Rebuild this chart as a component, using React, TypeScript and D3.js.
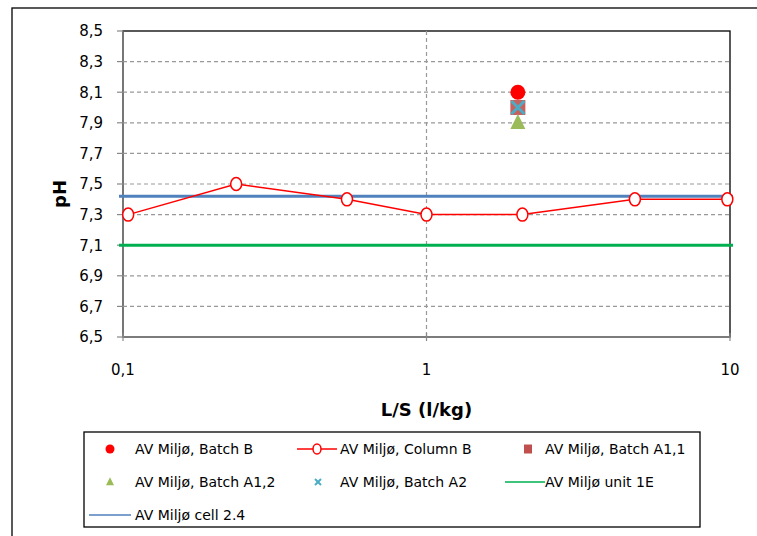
import React from "react";
import * as d3 from "d3";

const yTicks = [6.5, 6.7, 6.9, 7.1, 7.3, 7.5, 7.7, 7.9, 8.1, 8.3, 8.5];
const xTicks = [0.1, 1, 10];
const columnBx = [0.104, 0.236, 0.547, 1.0, 2.07, 4.86, 9.8];
const columnBy = [7.3, 7.5, 7.4, 7.3, 7.3, 7.4, 7.4];
const batchX = 2.0;
const batchB = 8.1;
const batchA11 = 8.0;
const batchA12 = 7.9;
const batchA2 = 8.0;
const unit1E = 7.1;
const cell24 = 7.42;
const legendLabels = [
  "AV Miljø, Batch B",
  "AV Miljø, Column B",
  "AV Miljø, Batch A1,1",
  "AV Miljø, Batch A1,2",
  "AV Miljø, Batch A2",
  "AV Miljø unit 1E",
  "AV Miljø cell 2.4",
];

const C = {
  red: "#FF0000",
  sq: "#C0504D",
  tri: "#9BBB59",
  x: "#4BACC6",
  green: "#00B050",
  blue: "#4F81BD",
};

export default function App() {
  const W = 757, H = 536;
  const L = 123, R = 730, T = 31, B = 337;
  const x = d3.scaleLog().domain([0.1, 10]).range([L, R]);
  const y = d3.scaleLinear().domain([6.5, 8.5]).range([B, T]);
  const font = "'DejaVu Sans', sans-serif";
  const line = d3.line<number>().x((_, i) => x(columnBx[i])).y((d) => y(d));

  const tri = (cx: number, cy: number, s: number) =>
    `M${cx},${cy - s * 0.58}L${cx + s / 2},${cy + s * 0.42}L${cx - s / 2},${cy + s * 0.42}Z`;
  const xMark = (cx: number, cy: number, s: number, color: string, w: number) => (
    <g stroke={color} strokeWidth={w}>
      <line x1={cx - s} y1={cy - s} x2={cx + s} y2={cy + s} />
      <line x1={cx - s} y1={cy + s} x2={cx + s} y2={cy - s} />
    </g>
  );

  const ly = [449, 482, 515];

  return (
    <svg width={W} height={H} style={{ position: "absolute", left: 0, top: 0, background: "#fff" }}>
      <rect x={0} y={0} width={W} height={H} fill="#fff" />
      <rect x={12} y={8} width={900} height={700} fill="none" stroke="#000" strokeWidth={1.3} />
      <rect x={L} y={T} width={R - L} height={B - T} fill="none" stroke="#000" strokeWidth={1.3} />
      {yTicks.slice(1, -1).map((t) => (
        <line key={t} x1={L} x2={R} y1={y(t)} y2={y(t)} stroke="#999" strokeWidth={1.2} strokeDasharray="4,3" />
      ))}
      <line x1={x(1)} x2={x(1)} y1={T} y2={B} stroke="#999" strokeWidth={1.2} strokeDasharray="4,3" />
      <line x1={L} x2={L} y1={T} y2={B} stroke="#888" strokeWidth={1.3} />
      <line x1={L} x2={R} y1={B} y2={B} stroke="#888" strokeWidth={1.3} />
      {yTicks.map((t) => (
        <g key={t}>
          <line x1={L - 6} x2={L} y1={y(t)} y2={y(t)} stroke="#888" strokeWidth={1.2} />
          <text x={L - 20} y={y(t)} dy="0.36em" textAnchor="end" fontFamily={font} fontSize={15} fill="#000">
            {String(t.toFixed(1)).replace(".", ",")}
          </text>
        </g>
      ))}
      {xTicks.map((t) => (
        <g key={t}>
          <line x1={x(t)} x2={x(t)} y1={B - 4} y2={B + 4} stroke="#888" strokeWidth={1.2} />
          <text x={x(t)} y={B + 38} textAnchor="middle" fontFamily={font} fontSize={15} fill="#000">
            {String(t).replace(".", ",")}
          </text>
        </g>
      ))}
      <text x={x(1)} y={416} textAnchor="middle" fontFamily={font} fontSize={18} fontWeight="bold">L/S (l/kg)</text>
      <text transform={`translate(66,${(T + B) / 2 + 10}) rotate(-90)`} textAnchor="middle" fontFamily={font} fontSize={18} fontWeight="bold">pH</text>

      <line x1={x(0.1) - 4} x2={x(10) + 3} y1={y(cell24)} y2={y(cell24)} stroke={C.blue} strokeWidth={3} />
      <line x1={x(0.1) - 4} x2={x(10) + 3} y1={y(unit1E)} y2={y(unit1E)} stroke={C.green} strokeWidth={3} />

      <path d={line(columnBy) || ""} fill="none" stroke={C.red} strokeWidth={1.5} />
      {columnBy.map((v, i) => (
        <ellipse key={i} cx={x(columnBx[i])} cy={y(v)} rx={5.5} ry={6.5} fill="#fff" stroke={C.red} strokeWidth={1.5} />
      ))}

      <circle cx={x(batchX)} cy={y(batchB)} r={7.5} fill={C.red} />
      <rect x={x(batchX) - 7.5} y={y(batchA11) - 7.5} width={15} height={15} fill={C.sq} opacity={0.9} />
      <path d={tri(x(batchX), y(batchA12), 15)} fill={C.tri} />
      {xMark(x(batchX), y(batchA2), 6.5, C.x, 3)}

      <rect x={84} y={432} width={616} height={95} fill="#fff" stroke="#000" strokeWidth={1.3} />
      <circle cx={110} cy={ly[0]} r={4.5} fill={C.red} />
      <line x1={297} x2={337} y1={ly[0]} y2={ly[0]} stroke={C.red} strokeWidth={1.5} />
      <ellipse cx={317} cy={ly[0]} rx={4} ry={5} fill="#fff" stroke={C.red} strokeWidth={1.5} />
      <rect x={524} y={ly[0] - 4.5} width={8} height={9} fill={C.sq} />
      <path d={tri(110, ly[1], 8)} fill={C.tri} />
      {xMark(318, ly[1], 3, C.x, 2)}
      <line x1={505} x2={545} y1={ly[1]} y2={ly[1]} stroke={C.green} strokeWidth={1.5} />
      <line x1={89} x2={131} y1={ly[2]} y2={ly[2]} stroke={C.blue} strokeWidth={1.5} />
      <defs>
        <clipPath id="lg"><rect x={84} y={432} width={615} height={95} /></clipPath>
      </defs>
      <g fontFamily={font} fontSize={14} fill="#000" clipPath="url(#lg)">
        <text x={135} y={ly[0]} dy="0.36em">{legendLabels[0]}</text>
        <text x={340} y={ly[0]} dy="0.36em">{legendLabels[1]}</text>
        <text x={545} y={ly[0]} dy="0.36em">{legendLabels[2]}</text>
        <text x={135} y={ly[1]} dy="0.36em">{legendLabels[3]}</text>
        <text x={340} y={ly[1]} dy="0.36em">{legendLabels[4]}</text>
        <text x={545} y={ly[1]} dy="0.36em">{legendLabels[5]}</text>
        <text x={135} y={ly[2]} dy="0.36em">{legendLabels[6]}</text>
      </g>
    </svg>
  );
}
